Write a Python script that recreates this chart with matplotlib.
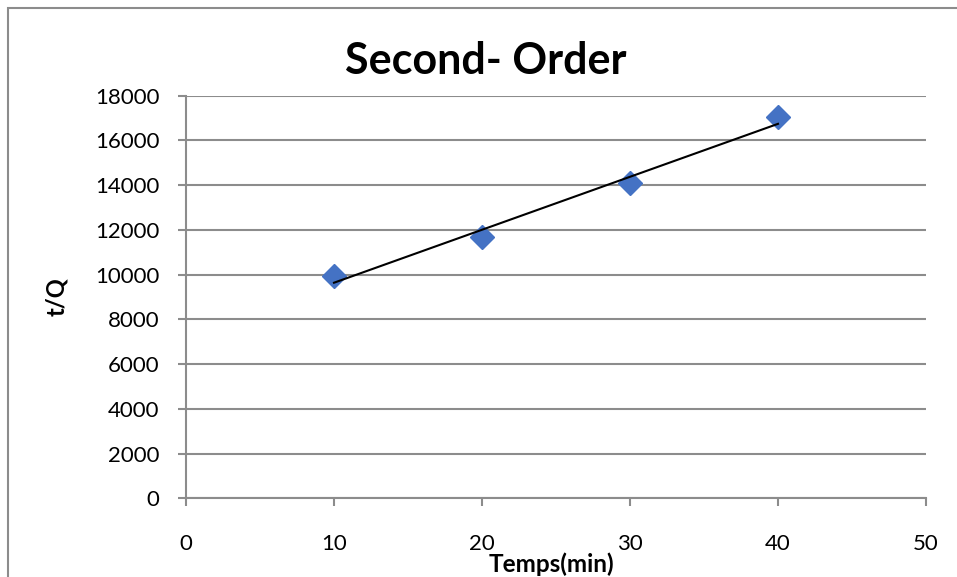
import matplotlib
matplotlib.use('Agg')
import matplotlib.pyplot as plt
from matplotlib.patches import Rectangle
import numpy as np

# kinetic data, pseudo second-order plot
temps = [10, 20, 30, 40]
t_over_q = [9940, 11700, 14080, 17040]

x_ticks = [0, 10, 20, 30, 40, 50]
y_ticks = [0, 2000, 4000, 6000, 8000, 10000, 12000, 14000, 16000, 18000]

plt.rcParams['font.family'] = ['Lato', 'DejaVu Sans']
grid_col = '#8c8c8c'

fig = plt.figure(figsize=[9.57, 5.77], dpi=100)
ax = fig.add_axes([186/957, 1-498.3/577, 740/957, 402.6/577])

# outer chart frame
fig.patches.append(Rectangle((8/957, -0.2), 1.2, 1.2 - 8/577, transform=fig.transFigure,
                             fill=False, edgecolor=grid_col, linewidth=1.5))

ax.plot(temps, t_over_q, linestyle='none', marker='D', markersize=12,
        color='#4472c4', zorder=3)

# linear trendline through the points
slope, intercept = np.polyfit(temps, t_over_q, 1)
xs = np.array([temps[0], temps[-1]])
ax.plot(xs, slope*xs + intercept, color='black', linewidth=1.5, zorder=4)

ax.set_xlim(0, 50)
ax.set_ylim(0, 18000)
ax.set_xticks(x_ticks)
ax.set_yticks(y_ticks)
ax.grid(axis='y', color=grid_col, linewidth=1.5)
ax.set_axisbelow(True)
for s in ['top', 'right']:
    ax.spines[s].set_visible(False)
for s in ['left', 'bottom']:
    ax.spines[s].set_color(grid_col)
    ax.spines[s].set_linewidth(1.5)
ax.tick_params(axis='both', colors=grid_col, labelcolor='black', labelsize=16,
               length=6, width=1.5)
ax.tick_params(axis='y', pad=13)
ax.tick_params(axis='x', pad=20)

fig.text(486/957, 1-74/577, 'Second- Order', fontsize=31, fontweight='bold',
         ha='center', va='baseline')
fig.text(551/957, 1-572/577, 'Temps(min)', fontsize=17.5, fontweight='bold',
         ha='center', va='baseline')
ax.set_ylabel('t/Q', fontsize=17, fontweight='bold')
ax.yaxis.set_label_coords(-0.159, 0.5)

fig.savefig('out.png', dpi=100)
